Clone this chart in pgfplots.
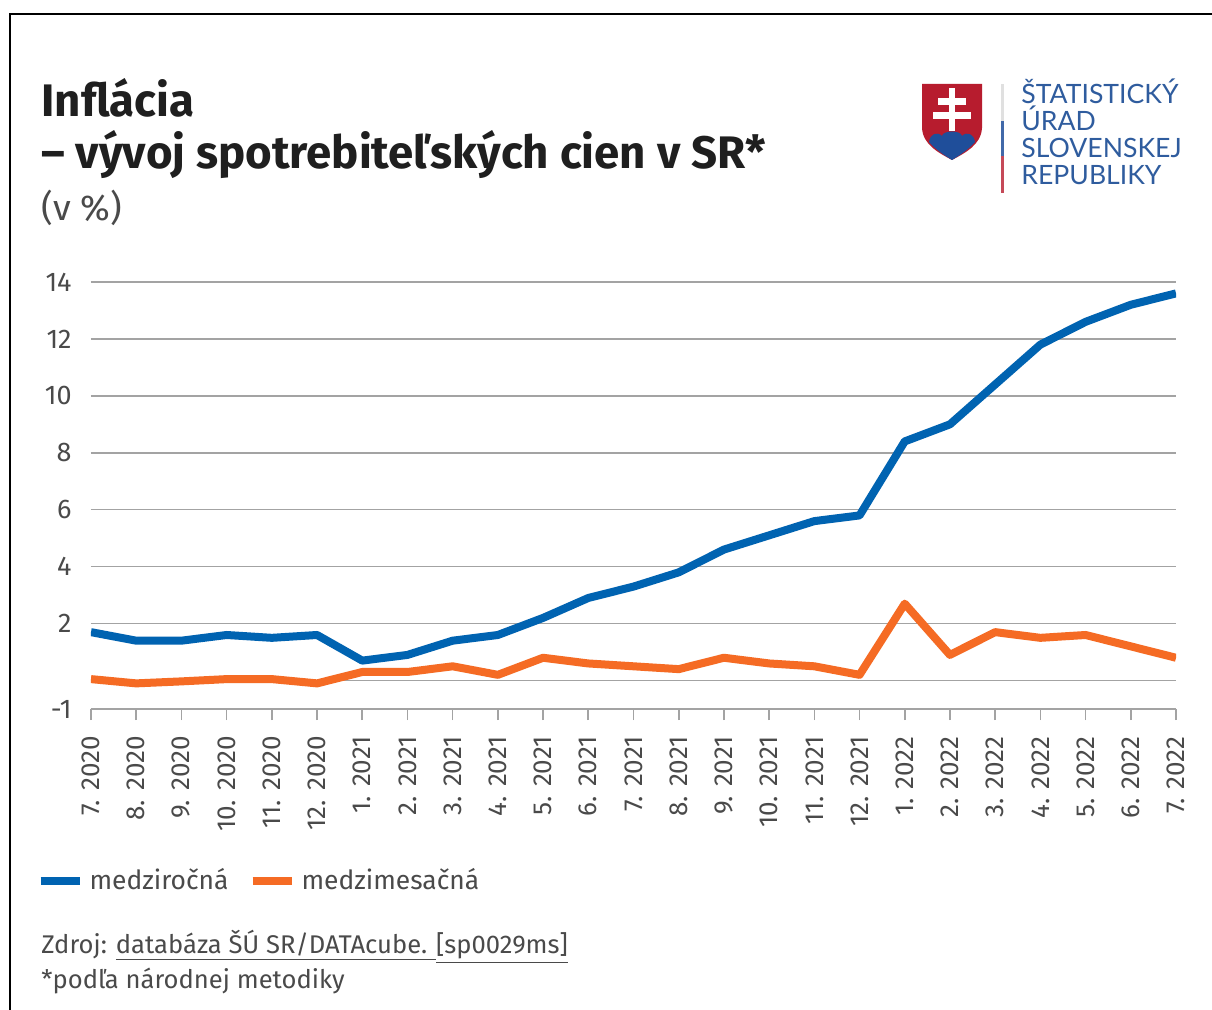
\documentclass[border=0pt]{standalone}
\usepackage{pgfplots}
\pgfplotsset{compat=1.18}
\usepackage{fontspec}
\setmainfont{Fira Sans}
\newfontfamily\logofont{Lato}
\definecolor{sblue}{HTML}{0063B1}
\definecolor{sorange}{HTML}{F56B24}
\definecolor{txt}{HTML}{4A4A4A}
\definecolor{lgrid}{HTML}{A3A3A3}
\definecolor{lred}{HTML}{B71C2E}
\definecolor{lblue}{HTML}{1F4E9A}
\definecolor{ltext}{HTML}{2F5C9E}
\pgfplotstableread{
idx yoy mom
0 1.7 0.05
1 1.4 -0.1
2 1.4 -0.03
3 1.6 0.05
4 1.5 0.05
5 1.6 -0.1
6 0.7 0.3
7 0.9 0.3
8 1.4 0.5
9 1.6 0.2
10 2.2 0.8
11 2.9 0.6
12 3.3 0.5
13 3.8 0.4
14 4.6 0.8
15 5.1 0.6
16 5.6 0.5
17 5.8 0.2
18 8.4 2.7
19 9.0 0.9
20 10.4 1.7
21 11.8 1.5
22 12.6 1.6
23 13.2 1.2
24 13.6 0.8
}\inflation
\begin{document}
\begin{tikzpicture}
\begin{scope}[x=0.5pt,y=-0.5pt]
\useasboundingbox (0,0) rectangle (1212,1010);
\fill[white] (0,0) rectangle (1212,1010);
\draw[black,line width=1pt] (10,1010) -- (10,14) -- (1212,14);
% title
\node[anchor=base west,inner sep=0,font=\fontsize{22.8}{26}\selectfont\bfseries,text=black!88] at (41,117) {Inflácia};
\node[anchor=base west,inner sep=0,font=\fontsize{22.8}{26}\selectfont\bfseries,text=black!88] at (41,169) {– vývoj spotrebiteľských cien v SR*};
\node[anchor=base west,inner sep=0,font=\fontsize{18}{22}\selectfont\fontseries{l}\selectfont,text=txt] at (41,221) {(v \%)};
% logo
\fill[lred] (922,84) -- (982,84) -- (982,128) .. controls (981,145) and (965,153) .. (952,160) .. controls (939,153) and (923,145) .. (922,128) -- cycle;
\fill[lblue] (929,142) .. controls (930,134) and (937,131) .. (942,136) .. controls (943,130) and (961,130) .. (962,136) .. controls (967,131) and (974,134) .. (975,142) .. controls (968,150) and (960,155) .. (952,160) .. controls (944,155) and (936,150) .. (929,142) -- cycle;
\fill[white] (949,88) rectangle (955,131);
\fill[white] (938,98) rectangle (966,105);
\fill[white] (933,112) rectangle (971,119);
\fill[black!12] (1001,84) rectangle (1003.5,121);
\fill[lblue!85] (1001,121) rectangle (1003.5,156);
\fill[lred!80] (1001,156) rectangle (1003.5,193);
\foreach \t/\b in {ŠTATISTICKÝ/104,ÚRAD/131,SLOVENSKEJ/158,REPUBLIKY/185}
  \node[anchor=base west,inner sep=0,font=\logofont\fontsize{13.3}{15}\selectfont,text=ltext] at (1021,\b) {\t};
% source
\node[anchor=base west,inner sep=0,font=\fontsize{12.8}{16}\selectfont\fontseries{l}\selectfont,text=txt] at (41,954) {Zdroj: \underline{databáza ŠÚ SR/DATAcube. }\underline{[sp0029ms]}};
\node[anchor=base west,inner sep=0,font=\fontsize{12.8}{16}\selectfont\fontseries{l}\selectfont,text=txt] at (41,988) {*podľa národnej metodiky};
\end{scope}
\begin{axis}[
  at={(45.5pt,-354.5pt)},anchor=south west,
  scale only axis,width=542.5pt,height=213.5pt,
  xmin=0,xmax=24,ymin=-1,ymax=14,
  axis x line*=bottom,axis y line*=left,
  y axis line style={draw=none},
  x axis line style={draw=lgrid,line width=0.8pt,-},
  ytick={-1,0,2,4,6,8,10,12,14},
  yticklabels={-1,{},2,4,6,8,10,12,14},
  ymajorgrids,
  grid style={draw=lgrid,line width=0.7pt},
  major y tick style={draw=none},
  major x tick style={draw=lgrid,line width=0.8pt},
  major tick length=5.5pt,
  tick align=outside,
  xtick={0,...,24},
  xticklabels={7. 2020,8. 2020,9. 2020,10. 2020,11. 2020,12. 2020,1. 2021,2. 2021,3. 2021,4. 2021,5. 2021,6. 2021,7. 2021,8. 2021,9. 2021,10. 2021,11. 2021,12. 2021,1. 2022,2. 2022,3. 2022,4. 2022,5. 2022,6. 2022,7. 2022},
  xticklabel style={rotate=90,anchor=east,font=\fontsize{13}{15}\selectfont\fontseries{l}\selectfont,text=txt,inner sep=0pt,xshift=-8pt},
  yticklabel style={font=\fontsize{13.5}{16}\selectfont\fontseries{l}\selectfont,text=txt,inner sep=0pt,xshift=-4pt},
  legend style={at={(-0.0502,-0.402)},anchor=west,draw=none,fill=none,inner sep=0pt,outer sep=0pt,
    font=\fontsize{13.2}{15}\selectfont\fontseries{l}\selectfont,text=txt,legend columns=2,
    /tikz/every even column/.style={column sep=8pt},/tikz/column 1/.style={column sep=1pt},/tikz/column 3/.style={column sep=1pt}},
  legend cell align=left,
  legend image code/.code={\draw[#1,line width=4pt] (0,0) -- (19.5pt,0);},
]
\addplot[sblue,line width=4pt,line join=round] table[x=idx,y=yoy] {\inflation};
\addlegendentry{medziročná}
\addplot[sorange,line width=4pt,line join=round] table[x=idx,y=mom] {\inflation};
\addlegendentry{medzimesačná}
\end{axis}
\end{tikzpicture}
\end{document}
